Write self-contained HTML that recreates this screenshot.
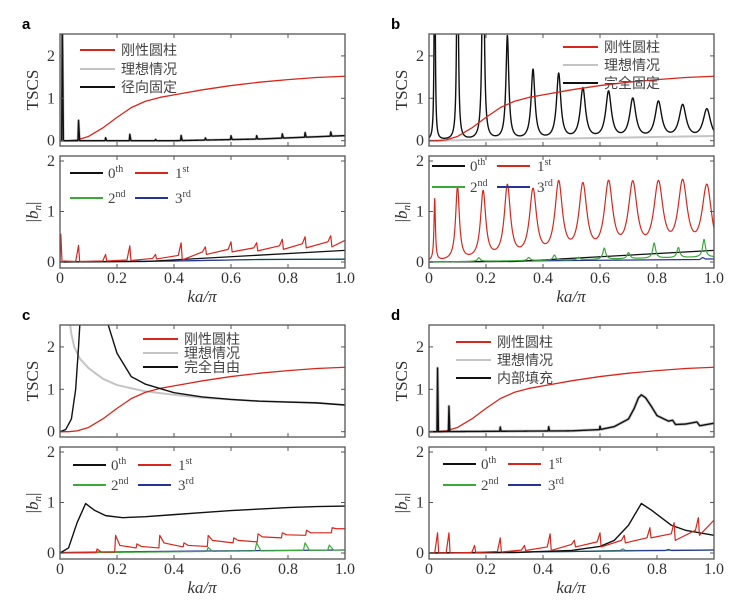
<!DOCTYPE html>
<html><head><meta charset="utf-8"><style>
html,body{margin:0;padding:0;background:#fff;}
svg{display:block;font-family:"Liberation Serif",serif;}
.cn{font-family:"Liberation Sans","Noto Sans CJK SC",sans-serif;}
</style></head><body>
<svg id="fig" width="737" height="608" viewBox="0 0 737 608" xmlns="http://www.w3.org/2000/svg"></svg>
<script>
// ===== Data =====
const xTicks = [0, 0.2, 0.4, 0.6, 0.8, 1.0];
const xTickLabels = ["0", "0.2", "0.4", "0.6", "0.8", "1.0"];
const yTicks = [0, 1, 2];
const yTickLabels = ["0", "1", "2"];

// rigid cylinder TSCS (red, all panels)
const rigidX = [0,0.03,0.06,0.1,0.15,0.2,0.25,0.3,0.35,0.4,0.5,0.6,0.7,0.8,0.9,1.0];
const rigidY = [0,0,0.02,0.1,0.3,0.55,0.78,0.93,1.02,1.08,1.2,1.3,1.38,1.44,1.49,1.52];

// panel a top: radial fixed (black) spikes on base
const aTopSpikeX = [0.008,0.065,0.16,0.245,0.335,0.425,0.51,0.6,0.69,0.78,0.86,0.95];
const aTopSpikeY = [3,0.48,0.07,0.15,0.03,0.12,0.05,0.09,0.08,0.1,0.11,0.1];
const aTopBaseX = [0,0.4,0.7,1.0];
const aTopBaseY = [0,0,0.04,0.12];
// panel a bottom
const aRedPeakX = [0.003,0.065,0.16,0.245,0.335,0.425,0.51,0.6,0.69,0.78,0.86,0.95];
const aRedPeakY = [0.55,0.33,0.15,0.32,0.15,0.38,0.3,0.4,0.38,0.45,0.5,0.52];
const aRedPreY  = [0,0.01,0.02,0.04,0.07,0.13,0.2,0.25,0.28,0.32,0.36,0.4];
const aRedPostY = [0.02,0.01,0.02,0.03,0.06,0.04,0.15,0.2,0.22,0.25,0.28,0.3];
const aRedEndY = 0.43;
const aB0X = [0,0.3,1.0];
const aB0Y = [0,0.01,0.23];
const aB2X = [0,0.4,0.7,1.0];
const aB2Y = [0,0.02,0.05,0.06];
const aB3X = [0,0.4,0.7,1.0];
const aB3Y = [0,0.02,0.05,0.055];

// panel b top: fully fixed (black) resonances
const bTopPeakX = [0.02,0.1,0.19,0.275,0.365,0.455,0.54,0.63,0.715,0.805,0.89,0.975];
const bTopPeakY = [6,6,6,2.45,1.65,1.55,1.2,1.12,0.95,0.88,0.8,0.72];
const bTopPeakW = [0.002,0.003,0.004,0.006,0.008,0.009,0.011,0.012,0.013,0.014,0.015,0.016];
const bIdealX = [0,1.0];
const bIdealY = [0,0.11];
// panel b bottom
const bRedPeakX = [0.02,0.1,0.19,0.275,0.365,0.455,0.54,0.63,0.715,0.805,0.89,0.975];
const bRedPeakY = [1.22,1.45,1.35,1.45,1.35,1.48,1.42,1.45,1.43,1.43,1.45,1.43];
const bRedPeakW = [0.003,0.008,0.011,0.013,0.015,0.016,0.017,0.018,0.019,0.02,0.02,0.021];
const bGreenPeakX = [0.175,0.35,0.44,0.525,0.615,0.7,0.79,0.875,0.965];
const bGreenPeakY = [0.07,0.06,0.1,0.05,0.22,0.12,0.3,0.2,0.35];
const bGreenBaseX = [0,0.5,1.0];
const bGreenBaseY = [0,0.04,0.1];
const bB0X = [0,0.3,1.0];
const bB0Y = [0,0.01,0.23];
const bB3X = [0,0.5,0.95,0.96,0.97,1.0];
const bB3Y = [0,0.03,0.05,0.09,0.06,0.06];

// panel c top
const cFreeX = [0,0.02,0.04,0.055,0.065,0.072,0.16,0.17,0.2,0.25,0.3,0.35,0.4,0.5,0.6,0.7,0.8,0.9,1.0];
const cFreeY = [0,0.05,0.3,1.0,2.0,2.8,2.8,2.5,1.85,1.3,1.12,1.02,0.92,0.82,0.76,0.72,0.7,0.68,0.63];
const cIdealX = [0.03,0.04,0.05,0.07,0.1,0.15,0.2,0.3,0.4,0.5,0.6,0.7,0.8,0.9,1.0];
const cIdealY = [2.8,2.3,2.0,1.72,1.5,1.25,1.1,0.95,0.87,0.8,0.76,0.72,0.7,0.68,0.63];
// panel c bottom
const cB0X = [0,0.03,0.06,0.09,0.12,0.16,0.22,0.3,0.4,0.5,0.6,0.7,0.8,0.9,1.0];
const cB0Y = [0,0.1,0.6,0.98,0.85,0.74,0.7,0.72,0.76,0.8,0.84,0.87,0.9,0.92,0.93];
const cRedPeakX = [0.13,0.195,0.27,0.35,0.435,0.52,0.61,0.695,0.78,0.865,0.955];
const cRedPeakY = [0.08,0.35,0.18,0.35,0.2,0.35,0.3,0.38,0.4,0.45,0.5];
const cRedPreY  = [0.01,0.02,0.1,0.1,0.12,0.13,0.2,0.22,0.3,0.35,0.4];
const cRedPostY = [0.02,0.15,0.13,0.2,0.15,0.25,0.25,0.32,0.36,0.4,0.48];
const cRedEndY = 0.48;
const cGreenPeakX = [0.52,0.69,0.86,0.945];
const cGreenPeakY = [0.08,0.16,0.15,0.1];
const cGreenBaseX = [0,0.5,1.0];
const cGreenBaseY = [0,0.03,0.06];
const cB3X = [0,0.5,1.0];
const cB3Y = [0.01,0.04,0.06];

// panel d top
const dSpikeX = [0.03,0.07,0.25,0.42,0.6];
const dSpikeY = [1.5,0.6,0.1,0.1,0.08];
const dBaseX = [0,0.5,0.6,0.65,0.7,0.72,0.735,0.745,0.76,0.78,0.8,0.84,0.855,0.865,0.9,0.94,0.95,1.0];
const dBaseY = [0,0.02,0.05,0.12,0.3,0.55,0.8,0.87,0.8,0.6,0.38,0.25,0.27,0.17,0.18,0.23,0.14,0.2];
// panel d bottom
const dB0X = [0,0.3,0.5,0.6,0.65,0.7,0.745,0.78,0.85,0.9,1.0];
const dB0Y = [0,0.01,0.05,0.13,0.25,0.55,0.98,0.85,0.55,0.45,0.35];
const dRedPeakX = [0.03,0.07,0.16,0.25,0.335,0.425,0.51,0.6,0.685,0.775,0.86,0.945];
const dRedPeakY = [0.4,0.4,0.15,0.3,0.15,0.38,0.25,0.4,0.35,0.5,0.6,0.7];
const dRedPreY  = [0,0,0.01,0.03,0.06,0.12,0.17,0.22,0.25,0.3,0.38,0.45];
const dRedPostY = [0,0,0.01,0.02,0.05,0.05,0.12,0.12,0.2,0.3,0.25,0.35];
const dRedEndY = 0.65;
const dB2X = [0,0.5,0.67,0.68,0.69,1.0];
const dB2Y = [0,0.03,0.05,0.08,0.05,0.06];
const dB3X = [0,0.5,0.83,0.84,0.85,1.0];
const dB3Y = [0,0.03,0.05,0.07,0.05,0.06];

// ===== Rendering =====
const NS = "http://www.w3.org/2000/svg";
const svg = document.getElementById("fig");
function el(tag, attrs, parent) {
  const e = document.createElementNS(NS, tag);
  for (const k in attrs) e.setAttribute(k, attrs[k]);
  (parent || svg).appendChild(e);
  return e;
}
function interp(xs, ys, x) {
  if (x <= xs[0]) return ys[0];
  for (let i = 1; i < xs.length; i++) {
    if (x <= xs[i]) { const t = (x - xs[i-1]) / (xs[i] - xs[i-1]); return ys[i-1] + t * (ys[i] - ys[i-1]); }
  }
  return ys[ys.length - 1];
}
function grid(n) { const g = []; for (let i = 0; i <= n; i++) g.push(i / n); return g; }
function lorentzPts(px, py, pw, bx, by) {
  return grid(1500).map(x => {
    let y = bx ? interp(bx, by, x) : 0;
    for (let i = 0; i < px.length; i++) { const d = (x - px[i]) / pw[i]; y += py[i] / (1 + d * d); }
    return [x, y];
  });
}
function spikePts(px, py, bx, by, wl, wr) {
  return grid(2000).map(x => {
    let y = interp(bx, by, x);
    for (let i = 0; i < px.length; i++) {
      const d = x - px[i];
      if (d <= 0 && d > -wl) y += py[i] * (1 + d / wl);
      else if (d > 0 && d < wr) y += py[i] * (1 - d / wr);
    }
    return [x, y];
  });
}
function sawPts(px, py, pre, post, endY, preDX, postDX) {
  const pts = [[0, 0]];
  for (let i = 0; i < px.length; i++) {
    pts.push([Math.max(0, px[i] - preDX), pre[i]]);
    pts.push([px[i], py[i]]);
    pts.push([px[i] + postDX, post[i]]);
  }
  pts.push([1.0, endY]);
  return pts;
}
function zipPts(xs, ys) { return xs.map((x, i) => [x, ys[i]]); }

let clipN = 0;
function makeAxes(ox, top, bottom, y0, perUnit, yName, namePrefix, showX) {
  const W = 285;
  const sx = v => ox + v * W;
  const sy = v => y0 - v * perUnit;
  const id = "clip" + (clipN++);
  const cp = el("clipPath", { id: id });
  el("rect", { x: ox, y: top, width: W, height: bottom - top }, cp);
  const g = el("g", { "clip-path": "url(#" + id + ")" });
  
  
  const frame = el("rect", { x: ox, y: top, width: W, height: bottom - top, fill: "none", stroke: "#555", "stroke-width": 1.3 });
  
  
  xTicks.forEach((t, i) => {
    el("line", { x1: sx(t), x2: sx(t), y1: bottom, y2: bottom - 4, stroke: "#555" });
    el("line", { x1: sx(t), x2: sx(t), y1: top, y2: top + 4, stroke: "#555" });
    if (showX) {
      const tl = el("text", { x: sx(t), y: bottom + 15, "text-anchor": "middle", "font-size": 16, fill: "#333" });
      tl.textContent = xTickLabels[i];
      
      
    }
  });
  yTicks.forEach((t, i) => {
    el("line", { x1: ox, x2: ox + 4, y1: sy(t), y2: sy(t), stroke: "#555" });
    el("line", { x1: ox + W, x2: ox + W - 4, y1: sy(t), y2: sy(t), stroke: "#555" });
    const tl = el("text", { x: ox - 5, y: sy(t) + 5, "text-anchor": "end", "font-size": 16, fill: "#333" });
    tl.textContent = yTickLabels[i];
    
    
  });
  return { g, sx, sy };
}
function drawLine(ax, pts, color, width, name) {
  const d = pts.map((p, i) => (i ? "L" : "M") + ax.sx(p[0]).toFixed(2) + "," + ax.sy(Math.min(p[1], 4)).toFixed(2)).join("");
  const p = el("path", { d: d, fill: "none", stroke: color, "stroke-width": width, "stroke-linejoin": "round" }, ax.g);
  
  
}
function legendEntry(x1, x2, y, color, tx, label, sup, name, cn) {
  const l = el("line", { x1: x1, x2: x2, y1: y, y2: y, stroke: color, "stroke-width": 2 });
  
  
  const t = el("text", { x: tx, y: y + 5, "font-size": cn ? 14 : 15, fill: "#444" });
  if (cn) t.setAttribute("class", "cn");
  t.textContent = label;
  if (sup) {
    const s = el("tspan", { dy: -6, "font-size": 10 }, t);
    s.textContent = sup;
  }
  
  
}
const RED = "#d9261c", GRAY = "#c4c4c4", GREEN = "#3aa93a", BLUE = "#26349a", BLACK = "#111";

function panel(ox, oy, letter, topName, topFn, botFn, topLeg, botLeg) {
  const lt = el("text", { x: ox - 38, y: oy + 29, "font-size": 15, "font-weight": "bold", "font-family": "Liberation Sans, sans-serif" });
  lt.textContent = letter;
  
  
  const top = makeAxes(ox, oy + 34, oy + 146, oy + 140.7, 42.4, "TSCS", "panel-" + letter + "-tscs", false);
  const bot = makeAxes(ox, oy + 156, oy + 268, oy + 262, 50.5, "|bn|", "panel-" + letter + "-bn", true);
  const yl = el("text", { x: 0, y: 0, transform: "translate(" + (ox - 22) + "," + (oy + 90) + ") rotate(-90)", "text-anchor": "middle", "font-size": 17, fill: "#333" });
  yl.textContent = "TSCS";
  
  
  const yb = el("text", { x: 0, y: 0, transform: "translate(" + (ox - 22) + "," + (oy + 212) + ") rotate(-90)", "text-anchor": "middle", "font-size": 17, fill: "#333" });
  yb.innerHTML = '|<tspan font-style="italic">b</tspan><tspan font-style="italic" font-size="11" dy="3">n</tspan><tspan dy="-3">|</tspan>';
  
  
  const xl = el("text", { x: ox + 142, y: oy + 302, "text-anchor": "middle", "font-size": 17, "font-style": "italic", fill: "#333" });
  xl.textContent = "ka/π";
  
  
  topFn(top); botFn(bot);
  const T = topLeg;
  legendEntry(T.x, T.x + 35, oy + T.y[0], RED, T.x + 41, "刚性圆柱", null, "legend-rigid", true);
  legendEntry(T.x, T.x + 35, oy + T.y[1], GRAY, T.x + 41, "理想情况", null, "legend-ideal", true);
  legendEntry(T.x, T.x + 35, oy + T.y[2], BLACK, T.x + 41, topName, null, "legend-case", true);
  const B = botLeg;
  legendEntry(B.x, B.x + 33, oy + B.y[0], BLACK, B.x + 38, "0", "th", "legend-0th");
  legendEntry(B.x + 65, B.x + 98, oy + B.y[0], RED, B.x + 105, "1", "st", "legend-1st");
  legendEntry(B.x, B.x + 33, oy + B.y[1], GREEN, B.x + 38, "2", "nd", "legend-2nd");
  legendEntry(B.x + 65, B.x + 98, oy + B.y[1], BLUE, B.x + 105, "3", "rd", "legend-3rd");
}

// Panel a
panel(60, 0, "a", "径向固定",
  ax => {
    drawLine(ax, spikePts(aTopSpikeX, aTopSpikeY, aTopBaseX, aTopBaseY, 0.002, 0.004), GRAY, 2.5, "ideal-tscs");
    drawLine(ax, zipPts(rigidX, rigidY), RED, 1.3, "rigid-tscs");
    drawLine(ax, spikePts(aTopSpikeX, aTopSpikeY, aTopBaseX, aTopBaseY, 0.002, 0.004), BLACK, 1.4, "radial-fixed-tscs");
  },
  ax => {
    drawLine(ax, zipPts(aB2X, aB2Y), GREEN, 1.2, "b2");
    drawLine(ax, zipPts(aB3X, aB3Y), BLUE, 1.2, "b3");
    drawLine(ax, zipPts(aB0X, aB0Y), BLACK, 1.3, "b0");
    drawLine(ax, sawPts(aRedPeakX, aRedPeakY, aRedPreY, aRedPostY, aRedEndY, 0.01, 0.004), RED, 1.2, "b1");
  },
  { x: 80, y: [50, 69, 87] }, { x: 70, y: [173, 198] });

// Panel b
panel(429, 0, "b", "完全固定",
  ax => {
    drawLine(ax, zipPts(bIdealX, bIdealY), GRAY, 2, "ideal-tscs");
    drawLine(ax, lorentzPts(bTopPeakX, bTopPeakY, bTopPeakW, null, null), BLACK, 1.4, "fully-fixed-tscs");
    drawLine(ax, zipPts(rigidX, rigidY), RED, 1.3, "rigid-tscs");
  },
  ax => {
    drawLine(ax, zipPts(bB3X, bB3Y), BLUE, 1.2, "b3");
    drawLine(ax, zipPts(bB0X, bB0Y), BLACK, 1.3, "b0");
    drawLine(ax, lorentzPts(bGreenPeakX, bGreenPeakY, bGreenPeakX.map(() => 0.006), bGreenBaseX, bGreenBaseY), GREEN, 1.2, "b2");
    drawLine(ax, lorentzPts(bRedPeakX, bRedPeakY, bRedPeakW, null, null), RED, 1.2, "b1");
  },
  { x: 563, y: [47, 65, 83] }, { x: 432, y: [166, 187] });

// Panel c
panel(60, 291, "c", "完全自由",
  ax => {
    drawLine(ax, zipPts(cIdealX, cIdealY), GRAY, 2, "ideal-tscs");
    drawLine(ax, zipPts(rigidX, rigidY), RED, 1.3, "rigid-tscs");
    drawLine(ax, zipPts(cFreeX, cFreeY), BLACK, 1.4, "fully-free-tscs");
  },
  ax => {
    drawLine(ax, zipPts(cB3X, cB3Y), BLUE, 1.2, "b3");
    drawLine(ax, spikePts(cGreenPeakX, cGreenPeakY, cGreenBaseX, cGreenBaseY, 0.006, 0.015), GREEN, 1.2, "b2");
    drawLine(ax, sawPts(cRedPeakX, cRedPeakY, cRedPreY, cRedPostY, cRedEndY, 0.003, 0.015), RED, 1.2, "b1");
    drawLine(ax, zipPts(cB0X, cB0Y), BLACK, 1.4, "b0");
  },
  { x: 143, y: [48, 62, 76] }, { x: 73, y: [174, 194] });

// Panel d
panel(429, 291, "d", "内部填充",
  ax => {
    drawLine(ax, spikePts(dSpikeX, dSpikeY, dBaseX, dBaseY, 0.002, 0.003), GRAY, 3, "ideal-tscs");
    drawLine(ax, zipPts(rigidX, rigidY), RED, 1.3, "rigid-tscs");
    drawLine(ax, spikePts(dSpikeX, dSpikeY, dBaseX, dBaseY, 0.002, 0.003), BLACK, 1.4, "filled-tscs");
  },
  ax => {
    drawLine(ax, zipPts(dB2X, dB2Y), GREEN, 1.2, "b2");
    drawLine(ax, zipPts(dB3X, dB3Y), BLUE, 1.2, "b3");
    drawLine(ax, zipPts(dB0X, dB0Y), BLACK, 1.4, "b0");
    drawLine(ax, sawPts(dRedPeakX, dRedPeakY, dRedPreY, dRedPostY, dRedEndY, 0.01, 0.004), RED, 1.2, "b1");
  },
  { x: 456, y: [51, 69, 87] }, { x: 443, y: [173, 194] });
</script>
</body></html>
